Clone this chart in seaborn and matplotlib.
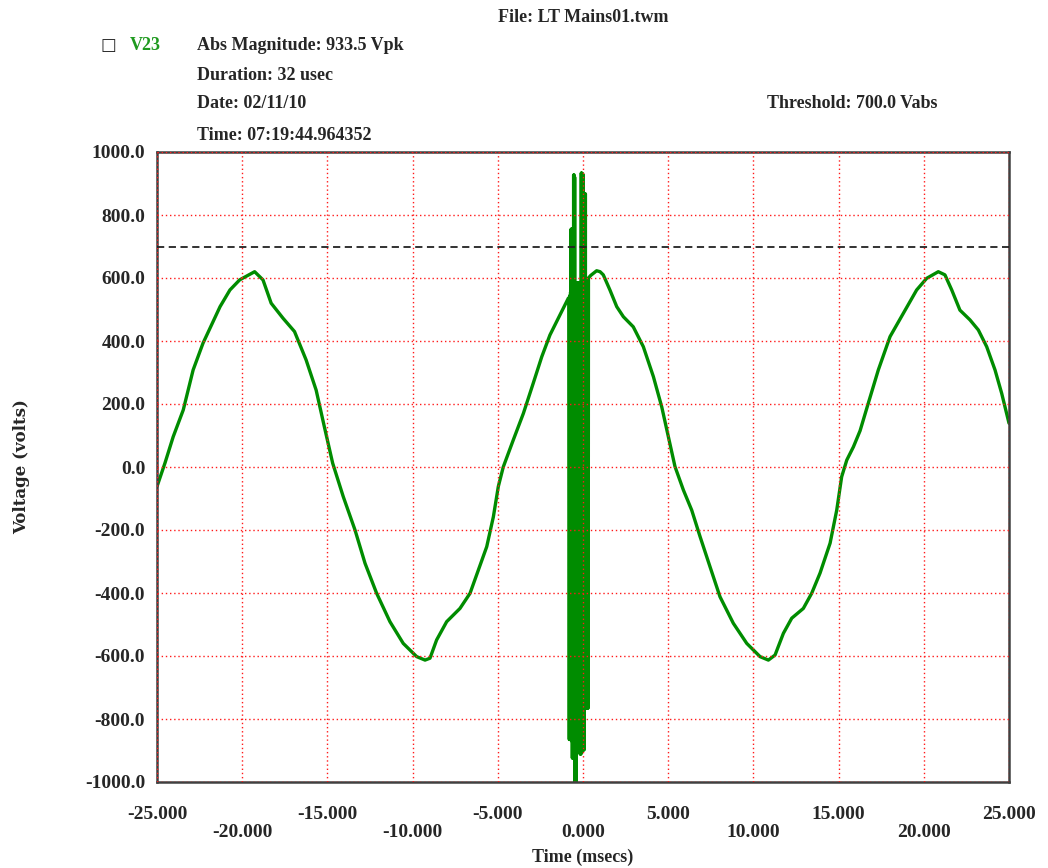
import matplotlib
matplotlib.use("Agg")
import matplotlib.pyplot as plt
import pandas as pd
import seaborn as sns

# Trace (time in msecs, voltage in volts)
wave_t_before = [-25.00, -24.53, -24.05, -23.46, -22.88, -22.30, -21.30, -20.72, -20.15,
                 -19.27, -18.78, -18.30, -17.60, -16.93, -16.25, -15.66, -15.18, -14.69,
                 -14.07, -13.38, -12.79, -12.11, -11.33, -10.55, -9.76, -9.27, -8.98,
                 -8.59, -8.00, -7.22, -6.63, -6.14, -5.65, -5.26, -4.97, -4.68, -4.09,
                 -3.50, -2.92, -2.42, -1.94, -1.35, -0.86]
wave_v_before = [-62, 13, 96, 181, 308, 393, 509, 562, 594,
                 620, 594, 520, 472, 430, 340, 244, 128, 12,
                 -94, -200, -306, -401, -491, -560, -602, -613, -607,
                 -549, -491, -449, -401, -327, -253, -158, -62, 0, 86,
                 170, 266, 350, 419, 483, 536]

# transient burst: alternating extremes of the ringing
burst_t = [-0.820, -0.805, -0.790, -0.775, -0.760, -0.745, -0.730, -0.715, -0.700, -0.685,
           -0.670, -0.655, -0.640, -0.625, -0.610, -0.595, -0.580, -0.565, -0.550, -0.535,
           -0.520, -0.505, -0.490, -0.475, -0.460, -0.445, -0.430, -0.415, -0.400, -0.385,
           -0.370, -0.355, -0.340, -0.325, -0.310, -0.295, -0.280, -0.265, -0.250, -0.235,
           -0.220, -0.205, -0.190, -0.175, -0.160, -0.145, -0.130, -0.115, -0.100, -0.085,
           -0.070, -0.055, -0.040, -0.025, -0.010, 0.005, 0.020, 0.035, 0.050, 0.065,
           0.080, 0.095, 0.110, 0.125, 0.140, 0.155, 0.170, 0.185, 0.200, 0.215,
           0.230, 0.245, 0.260, 0.275, 0.290, 0.305, 0.320]
burst_v = [536, -865, 540, -865, 545, -865, 555, -865, 755, -865,
           755, -870, 755, -924, 755, -924, 755, -924, 927, -924,
           927, -924, 920, -1000, 584, -1000, 584, -1000, 584, -851,
           584, -851, 584, -851, 584, -851, 584, -851, 584, -851,
           584, -851, 584, -911, 584, -911, 584, -911, 933.5, -898,
           933, -898, 930, -898, 930, -898, 867, -898, 867, -898,
           867, -765, 867, -765, 867, -765, 597, -765, 597, -765,
           597, -765, 597, -765, 597, -765, 600]

wave_t_after = [0.45, 0.80, 1.00, 1.19, 1.58, 1.98, 2.37, 2.95, 3.54, 4.13, 4.62,
                5.01, 5.40, 5.89, 6.38, 6.87, 7.45, 8.04, 8.82, 9.61, 10.39, 10.88,
                11.27, 11.76, 12.25, 12.93, 13.42, 13.91, 14.50, 14.89, 15.18, 15.48,
                15.87, 16.26, 16.74, 17.33, 18.02, 18.80, 19.58, 20.17, 20.85, 21.24,
                21.64, 22.12, 22.71, 23.20, 23.69, 24.18, 24.57, 25.00]
wave_v_after = [608, 623, 620, 610, 562, 509, 477, 445, 382, 287, 191,
                96, 1, -73, -137, -221, -316, -412, -496, -560, -602, -613,
                -597, -528, -480, -449, -401, -337, -242, -137, -31, 22,
                64, 115, 202, 308, 414, 488, 562, 599, 620, 610,
                562, 498, 467, 435, 382, 308, 234, 139]

threshold = 700.0
x_ticks_upper = [-25, -15, -5, 5, 15, 25]
x_ticks_lower = [-20, -10, 0, 10, 20]
y_ticks = [-1000, -800, -600, -400, -200, 0, 200, 400, 600, 800, 1000]

df = pd.DataFrame({
    "t": wave_t_before + burst_t + wave_t_after,
    "v": wave_v_before + burst_v + wave_v_after,
})

sns.set_style("white")
plt.rcParams["font.family"] = ["Liberation Serif", "DejaVu Serif"]
plt.rcParams["font.weight"] = "bold"
plt.rcParams["path.simplify"] = False  # keep every burst sample

fig = plt.figure(figsize=(10.48, 8.68), dpi=100)
ax = fig.add_axes([157 / 1048, 1 - 782 / 868, 852 / 1048, 630 / 868])

sns.lineplot(data=df, x="t", y="v", ax=ax, color="#008c00", lw=2.4,
             estimator=None, sort=False)
ax.axhline(threshold, color="#222222", lw=1.3, ls=(0, (4, 2.5)), zorder=3)

ax.set_xlim(-25, 25)
ax.set_ylim(-1000, 1000)
ax.set_xlabel("")
ax.set_ylabel("")

ax.set_xticks(x_ticks_upper)
ax.set_xticklabels([f"{v:.3f}" for v in x_ticks_upper])
ax.set_xticks(x_ticks_lower, minor=True)
ax.set_xticklabels([f"{v:.3f}" for v in x_ticks_lower], minor=True)
ax.set_yticks(y_ticks)
ax.set_yticklabels([f"{v:.1f}" for v in y_ticks])

ax.set_axisbelow(False)
grid_kw = dict(color="#ff1a1a", ls=(0, (1, 2)), lw=1.0)
ax.grid(True, which="both", axis="x", **grid_kw)
ax.grid(True, which="major", axis="y", **grid_kw)

ax.tick_params(axis="y", direction="in", length=6.5, width=1.3, color="#333333",
               pad=8.5, labelsize=14)
ax.tick_params(axis="x", which="major", direction="in", length=8.5, width=1.3,
               color="#333333", pad=17, labelsize=14)
ax.tick_params(axis="x", which="minor", direction="in", length=8.5, width=1.3,
               color="#333333", pad=30, labelsize=14)

for s in ax.spines.values():
    s.set_color("#404040")
    s.set_linewidth(1.8)

def fx(px):
    return px / 1048

def fy(py):
    return 1 - py / 868

fig.text(fx(583), fy(17), "File: LT Mains01.twm", ha="center", va="center", fontsize=13)
fig.text(fx(108), fy(45), "\u25a1", ha="center", va="center", fontsize=12,
         family=["DejaVu Sans"], fontweight="normal")
fig.text(fx(130), fy(45), "V23", ha="left", va="center", fontsize=13, color="#1f9a1f")
fig.text(fx(197), fy(45), "Abs Magnitude: 933.5 Vpk", ha="left", va="center", fontsize=13)
fig.text(fx(197), fy(75), "Duration: 32 usec", ha="left", va="center", fontsize=13)
fig.text(fx(197), fy(104), "Date: 02/11/10", ha="left", va="center", fontsize=13)
fig.text(fx(767), fy(104), "Threshold: 700.0 Vabs", ha="left", va="center", fontsize=13)
fig.text(fx(197), fy(135), "Time: 07:19:44.964352", ha="left", va="center", fontsize=13)

fig.text(fx(583), fy(857), "Time (msecs)", ha="center", va="center", fontsize=13)
fig.text(fx(22), fy(467), "Voltage (volts)", ha="center", va="center", rotation=90,
         fontsize=12, family=["DejaVu Serif"])

fig.savefig("out.png", dpi=100)
